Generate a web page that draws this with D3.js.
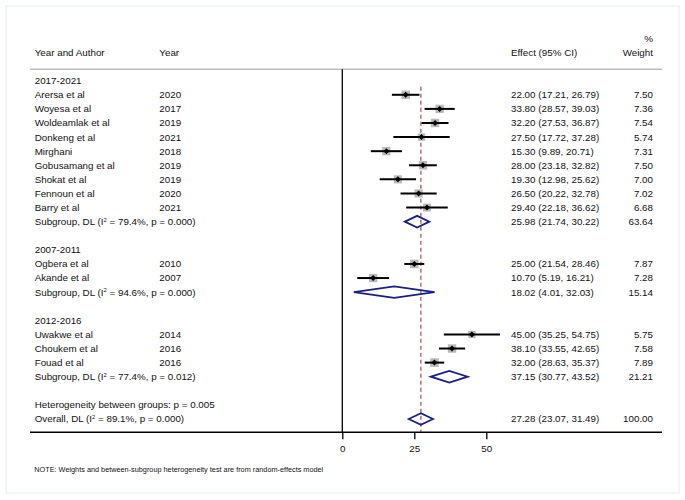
<!DOCTYPE html>
<html><head><meta charset="utf-8">
<script src="https://cdn.jsdelivr.net/npm/d3@7"></script>
<style>
html,body{margin:0;padding:0;background:#fff;}
svg text{font-family:"Liberation Sans",Arial,sans-serif;fill:#111;}
</style></head>
<body>
<svg id="chart" width="685" height="500"></svg>
<script>
// ---- data ----
const groupLabels = ["2017-2021", "2007-2011", "2012-2016"];
const authors = ["Arersa et al","Woyesa et al","Woldeamlak et al","Donkeng  et al","Mirghani","Gobusamang et al","Shokat et al","Fennoun et al","Barry et al",
                 "Ogbera et al","Akande et al",
                 "Uwakwe et al","Choukem et al","Fouad et al"];
const studyGroup = [0,0,0,0,0,0,0,0,0, 1,1, 2,2,2];
const years = [2020,2017,2019,2021,2018,2019,2019,2020,2021, 2010,2007, 2014,2016,2016];
const effects = [22.00,33.80,32.20,27.50,15.30,28.00,19.30,26.50,29.40, 25.00,10.70, 45.00,38.10,32.00];
const lowers  = [17.21,28.57,27.53,17.72,9.89,23.18,12.98,20.22,22.18, 21.54,5.19, 35.25,33.55,28.63];
const uppers  = [26.79,39.03,36.87,37.28,20.71,32.82,25.62,32.78,36.62, 28.46,16.21, 54.75,42.65,35.37];
const weights = [7.50,7.36,7.54,5.74,7.31,7.50,7.00,7.02,6.68, 7.87,7.28, 5.75,7.58,7.89];

const subI2 = ["79.4%","94.6%","77.4%"];
const subP  = ["0.000","0.000","0.012"];
const subEffect = [25.98,18.02,37.15];
const subLower  = [21.74,4.01,30.77];
const subUpper  = [30.22,32.03,43.52];
const subWeight = [63.64,15.14,21.21];

const hetBetweenP = "0.005";
const overallI2 = "89.1%", overallP = "0.000";
const overallEffect = 27.28, overallLower = 23.07, overallUpper = 31.49, overallWeight = 100.00;

const tickValues = [0, 25, 50];
const noteText = "NOTE: Weights and between-subgroup heterogeneity test are from random-effects model";

// ---- build row layout ----
const rows = [];
groupLabels.forEach((g, gi) => {
  rows.push({type:"group", label:g});
  studyGroup.forEach((sg, i) => { if (sg === gi) rows.push({type:"study", i}); });
  rows.push({type:"sub", gi});
  rows.push({type:"blank"});
});
rows.push({type:"het"});
rows.push({type:"overall"});
rows.forEach((r, k) => r.k = k);

// ---- scales ----
const svg = d3.select("#chart");
const x = d3.scaleLinear().domain([0, 50]).range([342.3, 486.3]);
const y = d3.scaleLinear().domain([0, rows.length - 1]).range([80.7, 419]);
const fs = 9.8;
const fmt = d3.format(".2f");
const ciText = (e,l,u) => `${fmt(e)} (${fmt(l)}, ${fmt(u)})`;

// frame
svg.append("rect").attr("x",6).attr("y",6).attr("width",673).attr("height",487)
  .attr("fill","none").attr("stroke","#e6edf4").attr("stroke-width",1);

// header
const hdrY = 52.7;
svg.append("text").attr("x",34.7).attr("y",hdrY).attr("dy","0.35em").attr("font-size",fs).text("Year and Author");
svg.append("text").attr("x",159.3).attr("y",hdrY).attr("dy","0.35em").attr("font-size",fs).text("Year");
svg.append("text").attr("x",511).attr("y",hdrY).attr("dy","0.35em").attr("font-size",fs).text("Effect (95% CI)");
svg.append("text").attr("x",653).attr("y",hdrY).attr("dy","0.35em").attr("font-size",fs).attr("text-anchor","end").text("Weight");
svg.append("text").attr("x",653).attr("y",39).attr("dy","0.35em").attr("font-size",fs).attr("text-anchor","end").text("%");
svg.append("line").attr("x1",30).attr("x2",662).attr("y1",69.3).attr("y2",69.3).attr("stroke","#bdbdbd").attr("stroke-width",1.4);

// axis line and zero line
const axisY = 432.3;
svg.append("line").attr("x1",x(0)).attr("x2",x(0)).attr("y1",69.3).attr("y2",axisY).attr("stroke","#000").attr("stroke-width",1.3);

// overall dashed line
svg.append("line").attr("x1",x(overallEffect)).attr("x2",x(overallEffect)).attr("y1",86.7).attr("y2",axisY)
  .attr("stroke","#b0656b").attr("stroke-width",1.4).attr("stroke-dasharray","4,3");

const axisG = svg.append("g").attr("transform",`translate(0,${axisY})`)
  .call(d3.axisBottom(x).tickValues(tickValues).tickSize(7).tickPadding(6).tickFormat(d3.format("d")));
axisG.select(".domain").remove();
axisG.selectAll(".tick line").attr("stroke","#000").attr("stroke-width",1.3);
axisG.selectAll(".tick text").attr("font-size",fs).attr("font-family","Liberation Sans, Arial, sans-serif").attr("fill","#111");
svg.append("line").attr("x1",30).attr("x2",662).attr("y1",axisY).attr("y2",axisY).attr("stroke","#000").attr("stroke-width",1.4);

function i2Label(g, x0, yy, prefix, i2, p) {
  const t = g.append("text").attr("x",x0).attr("y",yy).attr("dy","0.35em").attr("font-size",fs);
  t.append("tspan").text(prefix + " (I");
  t.append("tspan").attr("font-size",fs*0.6).attr("dy","-0.55em").text("2");
  t.append("tspan").attr("dy","0.33em").text(` = ${i2}, p = ${p})`);
}

const diamondColor = "#1b1f80";
function diamond(e,l,u,yy){
  const h = 5.8;
  svg.append("path")
    .attr("d",`M${x(l)},${yy} L${x(e)},${yy-h} L${x(u)},${yy} L${x(e)},${yy+h} Z`)
    .attr("fill","none").attr("stroke",diamondColor).attr("stroke-width",1.8).attr("stroke-linejoin","miter");
}

const boxK = 8.4 / Math.sqrt(7.5);
rows.forEach(r => {
  const yy = y(r.k);
  if (r.type === "group") {
    svg.append("text").attr("x",34.7).attr("y",yy).attr("dy","0.35em").attr("font-size",fs).text(r.label);
  } else if (r.type === "study") {
    const i = r.i;
    svg.append("text").attr("x",34.7).attr("y",yy).attr("dy","0.35em").attr("font-size",fs).text(authors[i]);
    svg.append("text").attr("x",159.3).attr("y",yy).attr("dy","0.35em").attr("font-size",fs).text(years[i]);
    svg.append("text").attr("x",511).attr("y",yy).attr("dy","0.35em").attr("font-size",fs).text(ciText(effects[i],lowers[i],uppers[i]));
    svg.append("text").attr("x",653).attr("y",yy).attr("dy","0.35em").attr("font-size",fs).attr("text-anchor","end").text(fmt(weights[i]));
    const s = boxK * Math.sqrt(weights[i]);
    svg.append("rect").attr("x",x(effects[i])-s/2).attr("y",yy-s/2).attr("width",s).attr("height",s).attr("fill","#b9b9b9");
    svg.append("line").attr("x1",x(lowers[i])).attr("x2",x(uppers[i])).attr("y1",yy).attr("y2",yy).attr("stroke","#000").attr("stroke-width",2);
    const d = 3;
    svg.append("path").attr("d",`M${x(effects[i])-d},${yy} L${x(effects[i])},${yy-d} L${x(effects[i])+d},${yy} L${x(effects[i])},${yy+d} Z`).attr("fill","#000");
  } else if (r.type === "sub") {
    const gi = r.gi;
    i2Label(svg, 34.7, yy, "Subgroup, DL", subI2[gi], subP[gi]);
    svg.append("text").attr("x",511).attr("y",yy).attr("dy","0.35em").attr("font-size",fs).text(ciText(subEffect[gi],subLower[gi],subUpper[gi]));
    svg.append("text").attr("x",653).attr("y",yy).attr("dy","0.35em").attr("font-size",fs).attr("text-anchor","end").text(fmt(subWeight[gi]));
    diamond(subEffect[gi],subLower[gi],subUpper[gi],yy);
  } else if (r.type === "het") {
    svg.append("text").attr("x",34.7).attr("y",yy).attr("dy","0.35em").attr("font-size",fs).text(`Heterogeneity between groups: p = ${hetBetweenP}`);
  } else if (r.type === "overall") {
    i2Label(svg, 34.7, yy, "Overall, DL", overallI2, overallP);
    svg.append("text").attr("x",511).attr("y",yy).attr("dy","0.35em").attr("font-size",fs).text(ciText(overallEffect,overallLower,overallUpper));
    svg.append("text").attr("x",653).attr("y",yy).attr("dy","0.35em").attr("font-size",fs).attr("text-anchor","end").text(fmt(overallWeight));
    diamond(overallEffect,overallLower,overallUpper,yy);
  }
});

// note
svg.append("text").attr("x",34.3).attr("y",469).attr("dy","0.35em").attr("font-size",7.3).text(noteText);
</script>
</body></html>
